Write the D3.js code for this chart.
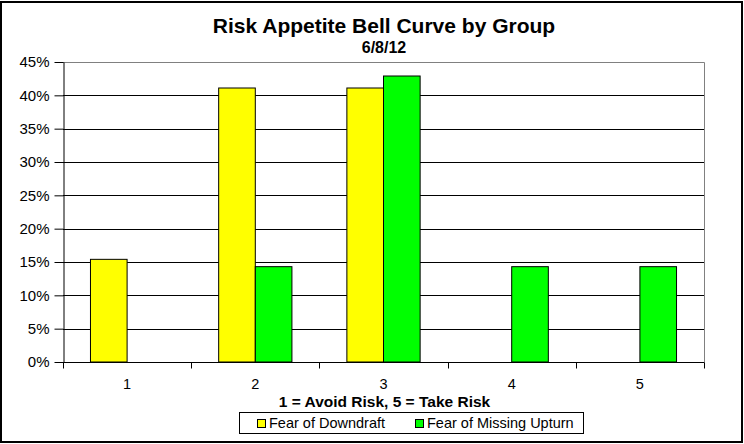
<!DOCTYPE html>
<html><head><meta charset="utf-8">
<script src="https://cdn.jsdelivr.net/npm/d3@7"></script>
<style>body{margin:0;background:#fff}svg{display:block;font-family:Arial,"Liberation Sans",sans-serif}</style>
</head><body>
<svg id="c" width="744" height="444"></svg>
<script>
const categories = ["1","2","3","4","5"];
const seriesNames = ["Fear of Downdraft","Fear of Missing Upturn"];
const downdraft = [15.4, 41.1, 41.1, 0, 0];
const missingUpturn = [0, 14.3, 42.9, 14.3, 14.3];
const yTicks = [0,5,10,15,20,25,30,35,40,45];
const colors = ["#FFFF00","#00FF00"];

const svg = d3.select("#c");
const m = {l:63, r:704, t:62, b:362};
svg.append("rect").attr("x",1).attr("y",2).attr("width",741).attr("height",440)
  .attr("fill","#fff").attr("stroke","#000").attr("stroke-width",2);

const x0 = d3.scaleBand().domain(categories).range([m.l,m.r]).paddingInner(0).paddingOuter(0);
// gap width 150%: bar width = band/(2+1.5)
const bw = x0.bandwidth()/3.5;
const y = d3.scaleLinear().domain([0,45]).range([m.b,m.t]);

// gridlines
svg.append("g").selectAll("line").data(yTicks.filter(d=>d>0&&d<45)).join("line")
  .attr("x1",m.l).attr("x2",m.r).attr("y1",d=>Math.round(y(d))+0.5).attr("y2",d=>Math.round(y(d))+0.5)
  .attr("stroke","#000").attr("stroke-width",1);
// plot border top/right gray
svg.append("path").attr("d",`M${m.l},${m.t+0.5}H${m.r+0.5}V${m.b}`).attr("fill","none").attr("stroke","#808080").attr("stroke-width",1);

const data = categories.map((c,i)=>({c, vals:[downdraft[i], missingUpturn[i]]}));
const g = svg.append("g");
data.forEach(d=>{
  d.vals.forEach((v,j)=>{
    if(v<=0) return;
    const xs = x0(d.c) + x0.bandwidth()/2 - bw + j*bw;
    g.append("rect").attr("x",xs).attr("y",y(v)).attr("width",bw).attr("height",y(0)-y(v))
      .attr("fill",colors[j]).attr("stroke","#000").attr("stroke-width",1);
  });
});

// y axis
const yAxis = d3.axisLeft(y).tickValues(yTicks).tickFormat(d=>d+"%").tickSize(9).tickSizeOuter(0);
const ya = svg.append("g").attr("transform",`translate(${m.l+0.5},0)`).call(yAxis);
ya.select(".domain").attr("stroke","#000");
ya.selectAll(".tick line").attr("stroke","#000");
ya.selectAll("text").attr("font-size",15).attr("fill","#000").attr("font-family","Arial, 'Liberation Sans', sans-serif").attr("x",-14);

// x axis
const xa = svg.append("g").attr("transform",`translate(0,${m.b+0.5})`);
xa.append("line").attr("x1",m.l).attr("x2",m.r+0.5).attr("stroke","#000");
const bounds = categories.map(c=>x0(c)).concat([m.r]);
xa.selectAll("line.tk").data(bounds).join("line").attr("class","tk")
  .attr("x1",d=>Math.round(d)+0.5).attr("x2",d=>Math.round(d)+0.5).attr("y1",0).attr("y2",6).attr("stroke","#000");
xa.selectAll("text").data(categories).join("text")
  .attr("x",d=>x0(d)+x0.bandwidth()/2).attr("y",26).attr("text-anchor","middle")
  .attr("font-size",14.5).attr("fill","#000").text(d=>d);

// titles
svg.append("text").attr("x",384).attr("y",33).attr("text-anchor","middle").attr("font-weight","bold").attr("font-size",21).text("Risk Appetite Bell Curve by Group");
svg.append("text").attr("x",384).attr("y",53).attr("text-anchor","middle").attr("font-weight","bold").attr("font-size",16).text("6/8/12");
svg.append("text").attr("x",384.5).attr("y",406.5).attr("text-anchor","middle").attr("font-weight","bold").attr("font-size",15.5).text("1 = Avoid Risk, 5 = Take Risk");

// legend
const lg = svg.append("g");
lg.append("rect").attr("x",239.5).attr("y",412.5).attr("width",344).attr("height",21).attr("fill","#fff").attr("stroke","#000");
const lx = [257, 415];
seriesNames.forEach((s,i)=>{
  lg.append("rect").attr("x",lx[i]+0.5).attr("y",419.5).attr("width",8).attr("height",8).attr("fill",colors[i]).attr("stroke","#000");
  lg.append("text").attr("x",lx[i]+12).attr("y",427.7).attr("font-size",14.5).text(s);
});
</script>
</body></html>
